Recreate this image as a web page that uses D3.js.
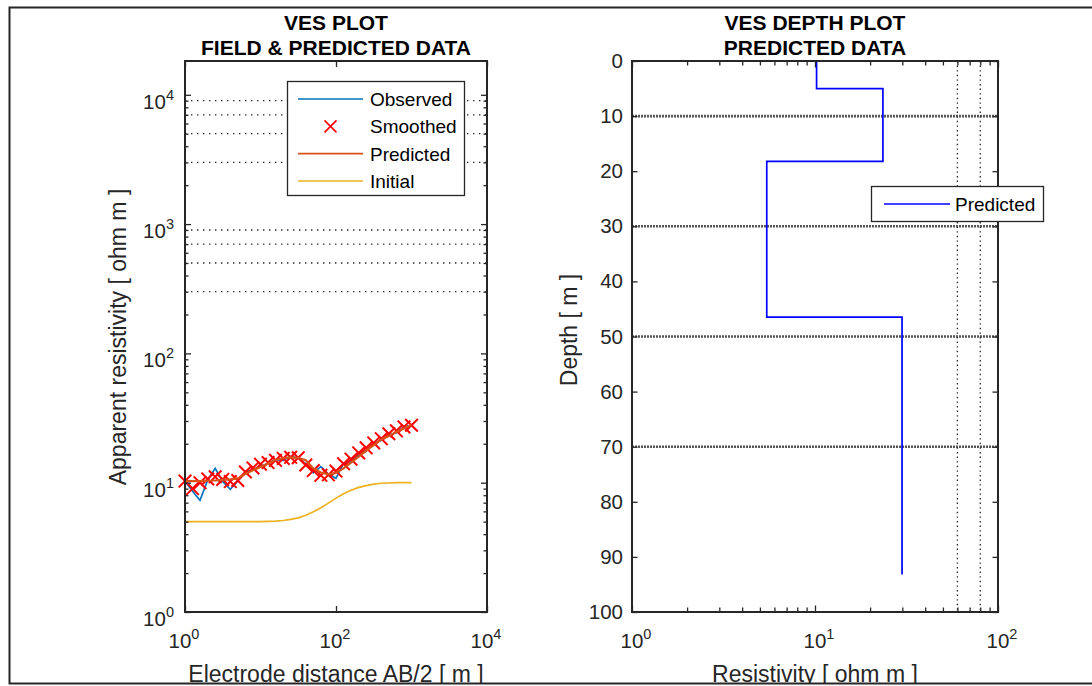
<!DOCTYPE html>
<html>
<head>
<meta charset="utf-8">
<script src="https://cdn.jsdelivr.net/npm/d3@7"></script>
<style>
  body { margin: 0; background: #fff; }
  svg { display: block; font-family: "Liberation Sans", Arial, sans-serif; }
</style>
</head>
<body>
<svg id="chart" width="1092" height="686"></svg>
<script>
// electrode spacing AB/2 [m]
const abHalf = [1, 1.26, 1.58, 2, 2.51, 3.16, 3.98, 5.01, 6.31, 7.94, 10, 12.6, 15.8, 20, 25.1, 31.6,
  39.8, 50.1, 63.1, 79.4, 100, 126, 158, 200, 251, 316, 398, 501, 631, 794, 1000];
const observed = [10.3, 8.6, 7.3, 10.5, 12.9, 10.2, 8.9, 10.3, 12.2, 12.5, 13.5, 14.0, 15.1, 14.9, 16.0, 15.5,
  14.0, 11.9, 13.3, 11.6, 10.8, 14.1, 14.6, 16.3, 17.5, 20.0, 21.3, 23.5, 24.3, 27.2, 27.6];
const smoothed = [10.3, 9.0, 10.0, 10.7, 11.1, 10.6, 10.2, 10.4, 12.1, 13.0, 13.9, 14.3, 14.9, 15.4, 15.7, 15.6,
  13.7, 12.4, 11.4, 11.5, 12.3, 14.0, 15.2, 17.0, 18.6, 20.3, 21.9, 23.9, 25.2, 27.0, 27.8];
const predicted = [10.3, 10.3, 10.3, 10.35, 10.4, 10.5, 10.6, 10.8, 11.7, 12.5, 13.2, 14.1, 15.0, 15.5, 15.7, 15.6,
  14.9, 12.9, 12.0, 11.6, 11.9, 12.9, 14.3, 15.9, 17.7, 19.5, 21.6, 23.0, 24.7, 26.3, 28.0];
const initial = [5.0, 5.0, 5.0, 5.0, 5.0, 5.0, 5.0, 5.0, 5.0, 5.0, 5.0, 5.02, 5.05, 5.1, 5.2, 5.35,
  5.6, 5.95, 6.4, 6.95, 7.6, 8.2, 8.75, 9.2, 9.5, 9.75, 9.9, 9.95, 10.0, 10.0, 10.0];
const refLevels = [300, 500, 700, 900, 3000, 5000, 7000, 9000];

// layered model (depth plot)
const layerRes = [10.2, 23.5, 5.45, 29.9];
const layerTop = [0, 5, 18.2, 46.5];
const modelBottom = 93.2;
const depthGrid = [10, 30, 50, 70];
const resGrid = [60, 80];
const depthTicks = [0, 10, 20, 30, 40, 50, 60, 70, 80, 90, 100];

const legendNames = ['Observed', 'Smoothed', 'Predicted', 'Initial'];
const colors = { obs: '#0072BD', smo: '#FF0000', pred: '#D95319', init: '#EDB120', model: '#0000FF' };
const axisColor = '#262626';

const svg = d3.select('#chart');
svg.append('defs').append('clipPath').attr('id', 'fig')
  .append('rect').attr('x', 0).attr('y', 0).attr('width', 1092).attr('height', 684);
const root = svg.append('g').attr('clip-path', 'url(#fig)');

function minorLog(lo, hi) {
  const out = [];
  for (let d = lo; d < hi; d *= 10) {
    for (let k = 2; k <= 9; k++) out.push(d * k);
  }
  return out;
}

function supLabel(sel, exp) {
  sel.append('tspan').text('10');
  sel.append('tspan').attr('dy', -9).attr('font-size', 14.5).text(exp);
}

function xMark(size) {
  return `M${-size},${-size}L${size},${size}M${-size},${size}L${size},${-size}`;
}

// ---------------- left plot ----------------
const x1 = d3.scaleLog().domain([1, 1e4]).range([185, 487]);
const y1 = d3.scaleLog().domain([1, 18250]).range([612, 61]);
const p1 = root.append('g');

p1.selectAll('line.ref').data(refLevels).join('line')
  .attr('class', 'ref')
  .attr('x1', x1(1)).attr('x2', x1(1e4))
  .attr('y1', d => y1(d)).attr('y2', d => y1(d))
  .attr('stroke', axisColor).attr('stroke-width', 1.3).attr('stroke-dasharray', '1.4,4.6');

const line1 = (vals) => d3.line().x((d, i) => x1(abHalf[i])).y(d => y1(d))(vals);

p1.append('path').attr('d', line1(initial)).attr('fill', 'none')
  .attr('stroke', colors.init).attr('stroke-width', 1.7);
p1.append('path').attr('d', line1(observed)).attr('fill', 'none')
  .attr('stroke', colors.obs).attr('stroke-width', 1.7);
p1.selectAll('path.smo').data(smoothed).join('path')
  .attr('class', 'smo')
  .attr('transform', (d, i) => `translate(${x1(abHalf[i])},${y1(d)})`)
  .attr('d', xMark(6.3)).attr('stroke', colors.smo).attr('stroke-width', 2);
p1.append('path').attr('d', line1(predicted)).attr('fill', 'none')
  .attr('stroke', colors.pred).attr('stroke-width', 2.2);

// axes left
const yMaj1 = [1, 10, 100, 1000, 10000];
const xMaj1 = [1, 100, 10000];
p1.append('g').attr('transform', 'translate(185,0)')
  .call(d3.axisRight(y1).tickValues(yMaj1).tickSize(6).tickFormat(''));
p1.append('g').attr('transform', 'translate(185,0)')
  .call(d3.axisRight(y1).tickValues(minorLog(1, 1e4)).tickSize(3.5).tickFormat(''));
p1.append('g').attr('transform', 'translate(487,0)')
  .call(d3.axisLeft(y1).tickValues(yMaj1).tickSize(6).tickFormat(''));
p1.append('g').attr('transform', 'translate(487,0)')
  .call(d3.axisLeft(y1).tickValues(minorLog(1, 1e4)).tickSize(3.5).tickFormat(''));
p1.append('g').attr('transform', 'translate(0,612)')
  .call(d3.axisTop(x1).tickValues(xMaj1).tickSize(6).tickFormat(''));
p1.append('g').attr('transform', 'translate(0,61)')
  .call(d3.axisBottom(x1).tickValues(xMaj1).tickSize(6).tickFormat(''));
p1.selectAll('.domain').remove();
p1.selectAll('.tick line').attr('stroke', axisColor).attr('stroke-width', 1.3);
p1.append('rect').attr('x', 185).attr('y', 61).attr('width', 302).attr('height', 551)
  .attr('fill', 'none').attr('stroke', axisColor).attr('stroke-width', 2);

p1.selectAll('text.ylab').data(yMaj1).join('text')
  .attr('class', 'ylab')
  .attr('x', 174).attr('y', d => y1(d) + 14)
  .attr('text-anchor', 'end').attr('font-size', 20.5).attr('fill', axisColor)
  .each(function (d) { supLabel(d3.select(this), Math.round(Math.log10(d))); });
p1.selectAll('text.xlab').data(xMaj1).join('text')
  .attr('class', 'xlab')
  .attr('x', d => x1(d) - 1).attr('y', 648)
  .attr('text-anchor', 'middle').attr('font-size', 20.5).attr('fill', axisColor)
  .each(function (d) { supLabel(d3.select(this), Math.round(Math.log10(d))); });

p1.append('text').attr('x', 336).attr('y', 30).attr('text-anchor', 'middle')
  .attr('font-size', 21).attr('font-weight', 'bold').attr('fill', '#000').text('VES PLOT');
p1.append('text').attr('x', 336).attr('y', 55).attr('text-anchor', 'middle')
  .attr('font-size', 21).attr('font-weight', 'bold').attr('fill', '#000').text('FIELD & PREDICTED DATA');
p1.append('text').attr('x', 336).attr('y', 682).attr('text-anchor', 'middle')
  .attr('font-size', 23).attr('fill', axisColor).text('Electrode distance AB/2 [ m ]');
p1.append('text').attr('transform', 'translate(126,337) rotate(-90)').attr('text-anchor', 'middle')
  .attr('font-size', 23).attr('fill', axisColor).text('Apparent resistivity [ ohm m ]');

// legend left
const lg1 = p1.append('g');
lg1.append('rect').attr('x', 287.5).attr('y', 81.5).attr('width', 177).attr('height', 114)
  .attr('fill', '#fff').attr('stroke', axisColor).attr('stroke-width', 1.3);
const lgY = d3.scalePoint().domain(legendNames).range([99, 181]);
const lgCol = [colors.obs, null, colors.pred, colors.init];
legendNames.forEach((name, i) => {
  const yy = lgY(name);
  if (lgCol[i]) {
    lg1.append('line').attr('x1', 298).attr('x2', 363).attr('y1', yy).attr('y2', yy)
      .attr('stroke', lgCol[i]).attr('stroke-width', 1.7);
  } else {
    lg1.append('path').attr('transform', `translate(330.5,${yy})`).attr('d', xMark(6))
      .attr('stroke', colors.smo).attr('stroke-width', 1.6);
  }
  lg1.append('text').attr('x', 370).attr('y', yy + 7).attr('font-size', 19).attr('fill', '#000').text(name);
});

// ---------------- right plot ----------------
const x2 = d3.scaleLog().domain([1, 100]).range([632, 998]);
const y2 = d3.scaleLinear().domain([0, 100]).range([61, 612]);
const p2 = root.append('g');

p2.selectAll('line.hg').data(depthGrid).join('line')
  .attr('class', 'hg')
  .attr('x1', x2(1)).attr('x2', x2(100)).attr('y1', d => y2(d)).attr('y2', d => y2(d))
  .attr('stroke', '#555').attr('stroke-width', 2.6).attr('stroke-dasharray', '2,1');
p2.selectAll('line.vg').data(resGrid).join('line')
  .attr('class', 'vg')
  .attr('x1', d => x2(d)).attr('x2', d => x2(d)).attr('y1', y2(0)).attr('y2', y2(100))
  .attr('stroke', axisColor).attr('stroke-width', 1.3).attr('stroke-dasharray', '1.4,3.2');

const modelPts = [];
layerRes.forEach((r, i) => {
  const bot = i < layerRes.length - 1 ? layerTop[i + 1] : modelBottom;
  modelPts.push([r, layerTop[i]], [r, bot]);
});
p2.append('path')
  .attr('d', d3.line().x(d => x2(d[0])).y(d => y2(d[1]))(modelPts))
  .attr('fill', 'none').attr('stroke', colors.model).attr('stroke-width', 1.7);

const xMaj2 = [1, 10, 100];
p2.append('g').attr('transform', 'translate(0,612)')
  .call(d3.axisTop(x2).tickValues(xMaj2).tickSize(6.5).tickFormat(''));
p2.append('g').attr('transform', 'translate(0,612)')
  .call(d3.axisTop(x2).tickValues(minorLog(1, 100)).tickSize(4.5).tickFormat(''));
p2.append('g').attr('transform', 'translate(0,61)')
  .call(d3.axisBottom(x2).tickValues(xMaj2).tickSize(6.5).tickFormat(''));
p2.append('g').attr('transform', 'translate(0,61)')
  .call(d3.axisBottom(x2).tickValues(minorLog(1, 100)).tickSize(4.5).tickFormat(''));
p2.append('g').attr('transform', 'translate(632,0)')
  .call(d3.axisRight(y2).tickValues(depthTicks).tickSize(5.5).tickFormat(''));
p2.append('g').attr('transform', 'translate(998,0)')
  .call(d3.axisLeft(y2).tickValues(depthTicks).tickSize(5.5).tickFormat(''));
p2.selectAll('.domain').remove();
p2.selectAll('.tick line').attr('stroke', axisColor).attr('stroke-width', 1.3);
p2.append('rect').attr('x', 632).attr('y', 61).attr('width', 366).attr('height', 551)
  .attr('fill', 'none').attr('stroke', axisColor).attr('stroke-width', 2);

p2.selectAll('text.ylab').data(depthTicks).join('text')
  .attr('class', 'ylab')
  .attr('x', 623).attr('y', d => y2(d) + 7)
  .attr('text-anchor', 'end').attr('font-size', 20.5).attr('fill', axisColor)
  .text(d => d);
p2.selectAll('text.xlab').data(xMaj2).join('text')
  .attr('class', 'xlab')
  .attr('x', d => x2(d) + 4).attr('y', 648)
  .attr('text-anchor', 'middle').attr('font-size', 20.5).attr('fill', axisColor)
  .each(function (d) { supLabel(d3.select(this), Math.round(Math.log10(d))); });

p2.append('text').attr('x', 815).attr('y', 30).attr('text-anchor', 'middle')
  .attr('font-size', 21).attr('font-weight', 'bold').attr('fill', '#000').text('VES DEPTH PLOT');
p2.append('text').attr('x', 815).attr('y', 55).attr('text-anchor', 'middle')
  .attr('font-size', 21).attr('font-weight', 'bold').attr('fill', '#000').text('PREDICTED DATA');
p2.append('text').attr('x', 815).attr('y', 682).attr('text-anchor', 'middle')
  .attr('font-size', 23).attr('fill', axisColor).text('Resistivity [ ohm m ]');
p2.append('text').attr('transform', 'translate(577,330) rotate(-90)').attr('text-anchor', 'middle')
  .attr('font-size', 23).attr('fill', axisColor).text('Depth [ m ]');

// legend right
const lg2 = p2.append('g');
lg2.append('rect').attr('x', 871.5).attr('y', 186.5).attr('width', 172).attr('height', 35)
  .attr('fill', '#fff').attr('stroke', axisColor).attr('stroke-width', 1.3);
lg2.append('line').attr('x1', 884).attr('x2', 950).attr('y1', 204).attr('y2', 204)
  .attr('stroke', colors.model).attr('stroke-width', 1.7);
lg2.append('text').attr('x', 955).attr('y', 211).attr('font-size', 19).attr('fill', '#000').text('Predicted');

// figure frame
svg.append('path').attr('d', 'M1092,7.5H9.5V683.5H1092')
  .attr('fill', 'none').attr('stroke', axisColor).attr('stroke-width', 2);
</script>
</body>
</html>
